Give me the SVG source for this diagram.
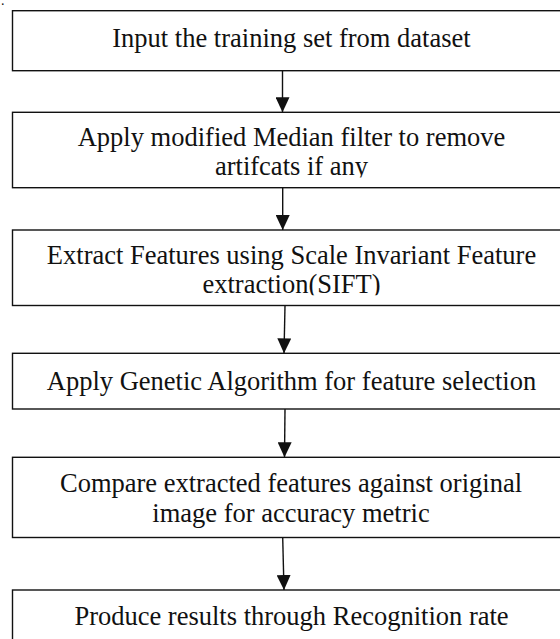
<svg xmlns="http://www.w3.org/2000/svg" width="560" height="639" viewBox="0 0 560 639">
<style>
.box{fill:#fff;stroke:#111;stroke-width:1.4}
.lbl{font-family:"Liberation Serif","Times New Roman",serif;font-size:26.5px;fill:#111;text-anchor:middle}
.conn{stroke:#111;stroke-width:1.4;fill:none}
</style>
<defs>
<marker id="ah" viewBox="0 0 15 14" refX="15" refY="7" markerWidth="15" markerHeight="14" markerUnits="userSpaceOnUse" orient="auto">
<path d="M0,0 L15,7 L0,14 Z" fill="#111"/>
</marker>
<clipPath id="c2"><rect x="12" y="112" width="560" height="65.5"/></clipPath>
<clipPath id="c3"><rect x="12" y="230" width="560" height="65.3"/></clipPath>
</defs>
<rect width="560" height="639" fill="#fff"/>
<text x="1" y="5" style="font-family:'Liberation Serif',serif;font-size:14px;fill:#111">.</text>
<g id="connectors">
<path class="conn" d="M282.5,70.7 L282.5,112.3" marker-end="url(#ah)"/>
<path class="conn" d="M282.7,187.7 L282.7,230" marker-end="url(#ah)"/>
<path class="conn" d="M285,305.5 L284,353.3" marker-end="url(#ah)"/>
<path class="conn" d="M285,409 L284.5,457.3" marker-end="url(#ah)"/>
<path class="conn" d="M282.7,537.5 L284,590" marker-end="url(#ah)"/>
</g>
<g id="n1">
<rect class="box" x="12.5" y="10.7" width="560" height="60"/>
<text class="lbl" x="291.5" y="46.7">Input the training set from dataset</text>
</g>
<g id="n2">
<rect class="box" x="12.5" y="112.3" width="560" height="75.4"/>
<g clip-path="url(#c2)">
<text class="lbl" x="291.5" y="145.5">Apply modified Median filter to remove</text>
<text class="lbl" x="291.5" y="175.3">artifcats if any</text>
</g>
</g>
<g id="n3">
<rect class="box" x="12.5" y="230" width="560" height="75.5"/>
<g clip-path="url(#c3)">
<text class="lbl" x="291.5" y="263.5">Extract Features using Scale Invariant Feature</text>
<text class="lbl" x="291.5" y="293.3">extraction(SIFT)</text>
</g>
</g>
<g id="n4">
<rect class="box" x="12.5" y="353.3" width="560" height="55.7"/>
<text class="lbl" x="291.5" y="390">Apply Genetic Algorithm for feature selection</text>
</g>
<g id="n5">
<rect class="box" x="12.5" y="457.3" width="560" height="80.2"/>
<text class="lbl" x="291" y="492.3">Compare extracted features against original</text>
<text class="lbl" x="291" y="521.7">image for accuracy metric</text>
</g>
<g id="n6">
<rect class="box" x="12.5" y="590" width="560" height="70"/>
<text class="lbl" x="291.5" y="625">Produce results through Recognition rate</text>
</g>
</svg>
